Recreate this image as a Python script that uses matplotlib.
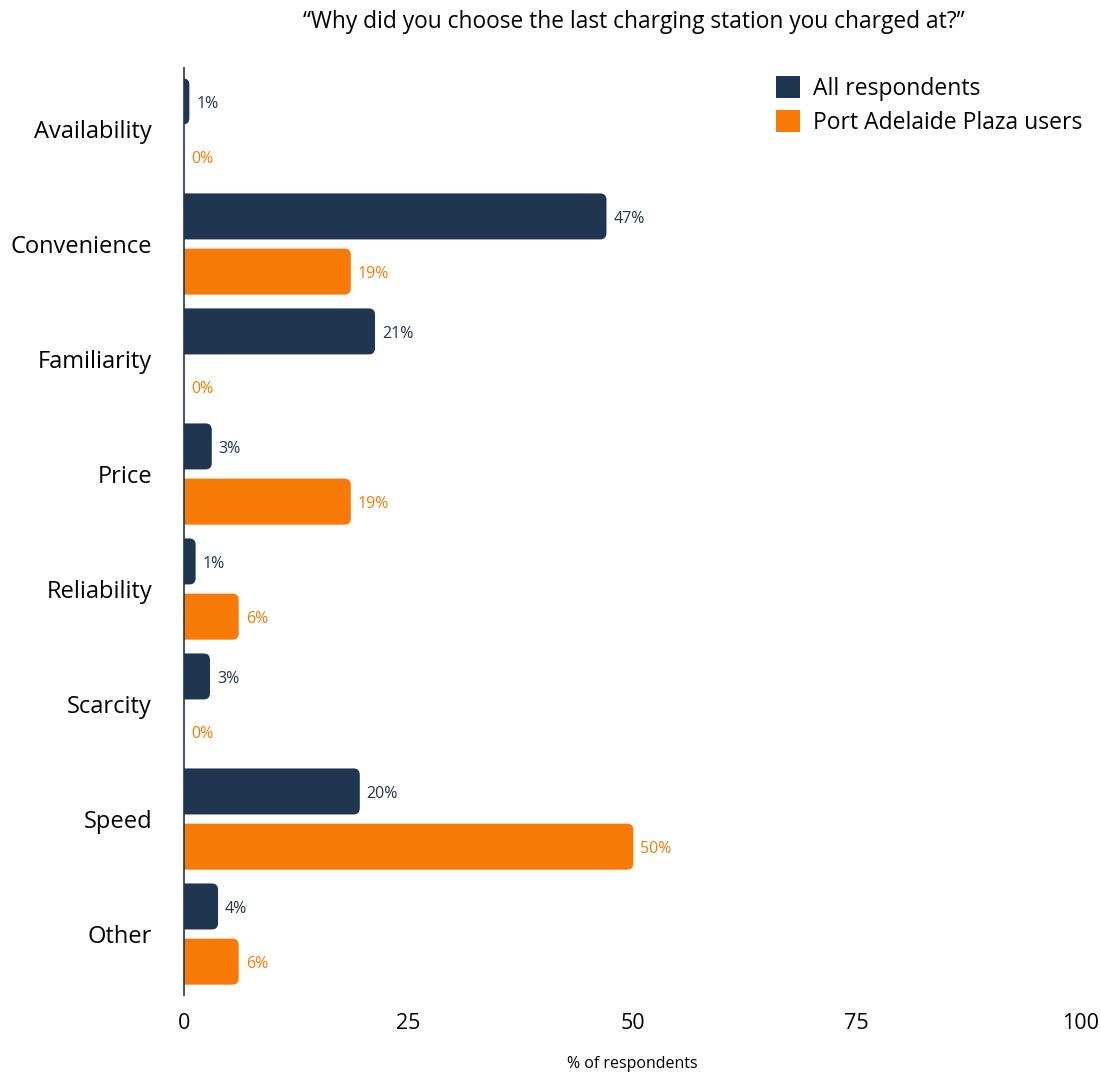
import matplotlib
matplotlib.use("Agg")
import matplotlib.pyplot as plt
from matplotlib.patches import FancyBboxPatch, Patch

plt.rcParams['font.family'] = ['Open Sans', 'DejaVu Sans']

# data
categories = ["Availability", "Convenience", "Familiarity", "Price",
              "Reliability", "Scarcity", "Speed", "Other"]
all_resp = [0.6, 47.1, 21.3, 3.1, 1.3, 2.9, 19.6, 3.8]
port_adelaide = [0, 18.6, 0, 18.6, 6.1, 0, 50.1, 6.1]
series_names = ["All respondents", "Port Adelaide Plaza users"]

navy = "#203550"
orange = "#f77a06"

fig = plt.figure(figsize=(11.01, 10.75), dpi=100)
ax = fig.add_axes([0.1671, 0.0744, 0.8147, 0.8623])

ax.set_xlim(0, 100)
ax.set_ylim(len(categories) - 0.47, -0.53)

bar_h = 0.4
offset = 0.24
r = 0.7   # rounding in x units
aspect = 0.078

for vals, col, off in [(all_resp, navy, -offset), (port_adelaide, orange, offset)]:
    for i, v in enumerate(vals):
        y = i + off
        if v > 0:
            # start left of the axis so the left corners get clipped square
            box = FancyBboxPatch((-1.5, y - bar_h / 2), v + 1.5, bar_h,
                                 boxstyle="round,pad=0,rounding_size=%s" % r,
                                 mutation_aspect=aspect, fc=col, ec="none",
                                 clip_on=True)
            ax.add_patch(box)
        ax.annotate("%d%%" % round(v), (v, y + 0.02), xytext=(5, 0),
                    textcoords="offset points", va="center", ha="left",
                    fontsize=11.5, color=col)

ax.set_yticks(range(len(categories)))
ax.set_yticklabels(categories, fontsize=17)
ax.set_xticks([0, 25, 50, 75, 100])
ax.tick_params(axis="both", length=0)
ax.tick_params(axis="x", labelsize=15.5, pad=13)
ax.tick_params(axis="y", pad=23)

for s in ["top", "right", "bottom"]:
    ax.spines[s].set_visible(False)
ax.spines["left"].set_color(navy)
ax.spines["left"].set_linewidth(1.2)

fig.text(632 / 1101, 1 - 1064 / 1075, "% of respondents", fontsize=11.5,
         ha="center", va="center")
fig.text(634 / 1101, 1 - 22 / 1075,
         "\u201cWhy did you choose the last charging station you charged at?\u201d",
         fontsize=16.4, ha="center", va="center")

handles = [Patch(fc=navy, ec="none"), Patch(fc=orange, ec="none")]
fig.legend(handles, series_names, loc="upper left", bbox_to_anchor=(0.705, 0.929),
           frameon=False, fontsize=16.5, handlelength=1.05, handleheight=1.05,
           handletextpad=0.55, labelspacing=0.42, borderpad=0, borderaxespad=0)

fig.savefig("out.png", dpi=100)
